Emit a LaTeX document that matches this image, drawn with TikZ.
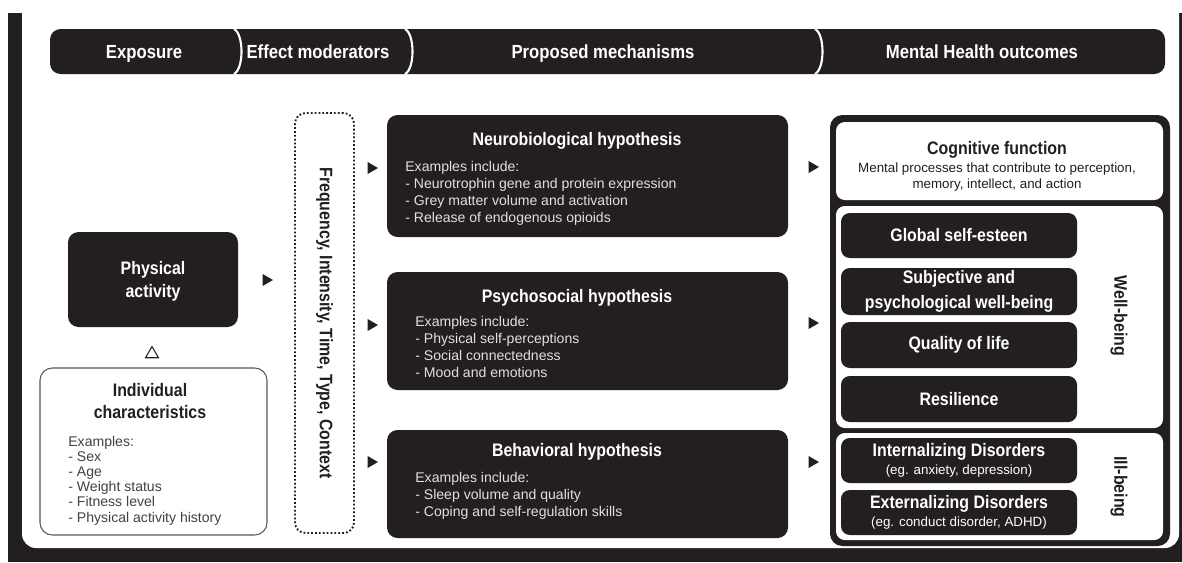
\documentclass[tikz,border=0pt]{standalone}
\usepackage{fontspec}
\setmainfont{Liberation Sans}
\newfontfamily\condfont{Liberation Sans}[FakeStretch=0.88]
\usepackage{xcolor}
\usetikzlibrary{fit,calc,shapes.geometric}
\definecolor{ink}{RGB}{35,31,32}
\newcommand{\hdrfont}{\condfont\bfseries\fontsize{10.8}{13}\selectfont}
\newcommand{\ttlfont}{\condfont\bfseries\fontsize{10.3}{13}\selectfont}
\newcommand{\exfont}{\normalfont\fontsize{8}{9.6}\selectfont}
\newcommand{\subfont}{\normalfont\fontsize{7.6}{9}\selectfont}
\tikzset{
  dbox/.style={fill=ink,rounded corners=6pt,inner sep=0pt},
  obox/.style={dbox,rounded corners=5pt},                % black box in outcome panel
  wbox/.style={fill=white,rounded corners=5pt,inner sep=0pt},
  ibox/.style={draw=ink!75,fill=white,line width=0.6pt,rounded corners=7pt,inner sep=0pt},
  dotbox/.style={draw=ink,line width=1.1pt,dash pattern=on 1pt off 1.2pt,
                 rounded corners=6pt,inner sep=0pt},
  ttl/.style={font=\ttlfont,align=center,inner sep=0pt,text=white},
  htxt/.style={font=\hdrfont,text=white,inner sep=0pt,anchor=base},
  exl/.style={font=\exfont,align=left,inner sep=0pt,text=white!88!black},
  sub/.style={font=\subfont,align=center,inner sep=0pt},
  tri/.style={regular polygon,regular polygon sides=3,shape border rotate=-90,
              fill=ink,inner sep=0pt,minimum size=0.28cm},
  otri/.style={regular polygon,regular polygon sides=3,draw=ink,line width=0.6pt,
               fill=white,inner sep=0pt,minimum size=0.3cm}
}

\begin{document}
\begin{tikzpicture}[x=0.02cm,y=-0.02cm]
  \useasboundingbox (0,0) rectangle (1182,562);
  % frame
  \fill[ink] (8,13) rectangle (1182,562);
  \fill[white,rounded corners=8pt] (22,0) rectangle (1179,548);

  % header bar
  \node[dbox,fit={(50,29) (1165,74)}] (hdr) {};
  \foreach \sx in {234,405,815}
    \draw[white,line width=1.2pt] (\sx,29) .. controls (\sx+10,34) and (\sx+10,69) .. (\sx,74);
  \node[htxt] (hExp) at (144,58) {Exposure};
  \node[htxt] (hMod) at (318,58) {Effect moderators};
  \node[htxt] (hMech) at (603,58) {Proposed mechanisms};
  \node[htxt] (hOut) at (982,58) {Mental Health outcomes};

  % exposure
  \node[dbox,fit={(68,232) (238,327)}] (pa) {};
  \node[ttl] (paT) at ($(pa.center)+(0,2)$) {Physical\\activity};
  \node[otri] (up) at (152,354) {};
  \node[ibox,fit={(40,368) (267,535)}] (ic) {};
  \node[ttl,text=ink] (icT) at (150,401) {Individual\\characteristics};
  \node[exl,text=ink!85,anchor=north west,font=\normalfont\fontsize{8}{8.6}\selectfont]
    (icL) at (68,436) {Examples:\\- Sex\\- Age\\- Weight status\\- Fitness level\\- Physical activity history};
  \node[tri] (a0) at (266,280) {};

  % moderators
  \node[dotbox,fit={(295,113) (354,533)}] (freq) {};
  \node[ttl,text=ink,rotate=-90] (freqT) at (freq.center) {Frequency, Intensity, Time, Type, Context};
  \node[tri] (a1) at (371,168) {};
  \node[tri] (a2) at (371,325) {};
  \node[tri] (a3) at (371,462) {};

  % mechanisms
  \node[dbox,fit={(387,115) (788,237)}] (neuro) {};
  \node[ttl,anchor=base] (neuroT) at (577,145) {Neurobiological hypothesis};
  \node[exl,anchor=north west] (neuroL) at (405,161)
    {Examples include:\\- Neurotrophin gene and protein expression\\- Grey matter volume and activation\\- Release of endogenous opioids};
  \node[dbox,fit={(387,272) (788,390)}] (psych) {};
  \node[ttl,anchor=base] (psychT) at (577,302) {Psychosocial hypothesis};
  \node[exl,anchor=north west] (psychL) at (415,316)
    {Examples include:\\- Physical self-perceptions\\- Social connectedness\\- Mood and emotions};
  \node[dbox,fit={(387,430) (788,538)}] (behav) {};
  \node[ttl,anchor=base] (behavT) at (577,456) {Behavioral hypothesis};
  \node[exl,anchor=north west] (behavL) at (415,472)
    {Examples include:\\- Sleep volume and quality\\- Coping and self-regulation skills};
  \node[tri] (b1) at (812,167) {};
  \node[tri] (b2) at (812,323) {};
  \node[tri] (b3) at (812,462) {};

  % outcomes
  \node[dbox,rounded corners=7pt,fit={(830,115) (1170,546)}] (outc) {};
  \node[wbox,fit={(836,122) (1163,200)}] (cog) {};
  \node[ttl,anchor=base,text=ink] (cogT) at (997,154) {Cognitive function};
  \node[sub,text=ink] (cogS) at (997,177) {Mental processes that contribute to perception,\\memory, intellect, and action};
  \node[wbox,fit={(836,206) (1163,428)}] (well) {};
  \node[wbox,fit={(836,433) (1163,540)}] (ill) {};
  \node[obox,fit={(841,213) (1077,258)}] (gse) {};
  \node[obox,fit={(841,268) (1077,315)}] (swb) {};
  \node[obox,fit={(841,322) (1077,368)}] (qol) {};
  \node[obox,fit={(841,376) (1077,422)}] (res) {};
  \node[obox,fit={(841,438) (1077,483)}] (intd) {};
  \node[obox,fit={(841,490) (1077,535)}] (extd) {};
  \node[ttl] (gseT) at (gse.center) {Global self-esteen};
  \node[ttl] (swbT) at (swb.center) {Subjective and\\[1pt]psychological well-being};
  \node[ttl] (qolT) at (qol.center) {Quality of life};
  \node[ttl] (resT) at (res.center) {Resilience};
  \node[ttl] (intdT) at (intd.center) {Internalizing Disorders\\[-3pt]\subfont (eg. anxiety, depression)};
  \node[ttl] (extdT) at (extd.center) {Externalizing Disorders\\[-3pt]\subfont (eg. conduct disorder, ADHD)};
  \node[ttl,rotate=-90,text=ink] (wellT) at (1119,316) {Well-being};
  \node[ttl,rotate=-90,text=ink] (illT) at (1119,487) {Ill-being};
\end{tikzpicture}
\end{document}
